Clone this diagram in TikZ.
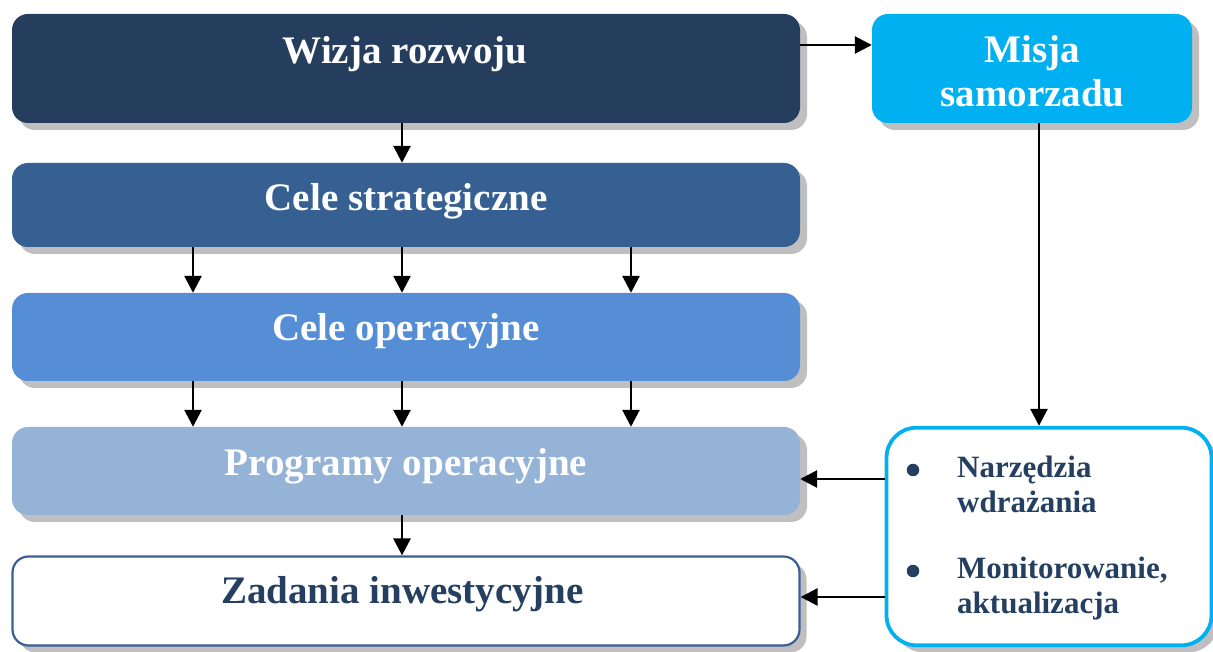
\documentclass[tikz,border=0pt]{standalone}
\usepackage{fontspec}
\setmainfont{Liberation Serif}
\usetikzlibrary{arrows.meta,shadows}
\definecolor{cWizja}{HTML}{253E5E}
\definecolor{cStrat}{HTML}{366092}
\definecolor{cOper}{HTML}{558ED5}
\definecolor{cProg}{HTML}{95B3D7}
\definecolor{cMisja}{HTML}{00B0F0}
\definecolor{cShadow}{HTML}{BFBFBF}
\definecolor{cNavy}{HTML}{243F60}
\definecolor{cZadBorder}{HTML}{3A5F95}
\begin{document}
\begin{tikzpicture}[x=1pt,y=1pt,
  box/.style={rectangle, rounded corners=16pt, inner sep=0pt, draw=none,
    drop shadow={shadow xshift=7pt, shadow yshift=-7pt, fill=cShadow, opacity=1}},
  maintext/.style={font=\fontsize{39}{44}\selectfont\bfseries, text=white, inner sep=0pt, anchor=base},
  sidetext/.style={font=\fontsize{31}{35}\selectfont\bfseries, text=cNavy, inner sep=0pt, anchor=base west},
  bulletdot/.style={circle, fill=cNavy, inner sep=0pt, minimum size=12.5pt},
  arr/.style={line width=2.7pt, -{Triangle[length=17pt,width=17pt]}}]
\useasboundingbox (0,0) rectangle (1213,651);
% boxes
\node[box, fill=cWizja, minimum width=788pt, minimum height=109pt] (wizja) at (406,582.5) {};
\node[box, fill=cMisja, minimum width=320pt, minimum height=109pt] (misja) at (1032,582.5) {};
\node[box, fill=cStrat, minimum width=788pt, minimum height=84pt] (strat) at (406,446) {};
\node[box, fill=cOper, minimum width=788pt, minimum height=88pt] (oper) at (406,314) {};
\node[box, fill=cProg, minimum width=788pt, minimum height=88pt] (prog) at (406,180) {};
\node[box, fill=white, draw=cZadBorder, line width=2.2pt, minimum width=787pt, minimum height=89pt] (zad) at (406,50) {};
\node[box, rounded corners=30pt, fill=white, draw=cMisja, line width=3.8pt, minimum width=325pt, minimum height=217.6pt] (right) at (1049,114.5) {};
% texts
\node[maintext] (wizjaT) at (405,587) {Wizja rozwoju};
\node[maintext] (misjaT1) at (1032.5,588) {Misja};
\node[maintext] (misjaT2) at (1032.5,544) {samorzadu};
\node[maintext] (stratT) at (406,440) {Cele strategiczne};
\node[maintext] (operT) at (406,310) {Cele operacyjne};
\node[maintext] (progT) at (406,175) {Programy operacyjne};
\node[maintext, text=cNavy] (zadT) at (402.5,48) {Zadania inwestycyjne};
\node[bulletdot] (b1) at (913,181) {};
\node[bulletdot] (b2) at (913,80) {};
\node[sidetext] (r1) at (957,173) {Narzędzia};
\node[sidetext] (r2) at (957,138) {wdrażania};
\node[sidetext] (r3) at (957,73) {Monitorowanie,};
\node[sidetext] (r4) at (957,38) {aktualizacja};
% connector guides
\coordinate (xa) at (193,0);
\coordinate (xb) at (402,0);
\coordinate (xc) at (631,0);
\coordinate (xm) at (1039,0);
\coordinate (ya) at (0,606);
\coordinate (yb) at (0,172);
\coordinate (yc) at (0,54);
% connectors
\draw[arr] (wizja.east |- ya) -- (misja.west |- ya);
\draw[arr] (wizja.south -| xb) -- (strat.north -| xb);
\foreach \c in {xa,xb,xc}{
  \draw[arr] (strat.south -| \c) -- (oper.north -| \c);
  \draw[arr] (oper.south -| \c) -- (prog.north -| \c);
}
\draw[arr] (prog.south -| xb) -- (zad.north -| xb);
\draw[arr] (misja.south -| xm) -- (right.north -| xm);
\draw[arr] (right.west |- yb) -- (prog.east |- yb);
\draw[arr] (right.west |- yc) -- (zad.east |- yc);
\end{tikzpicture}
\end{document}
